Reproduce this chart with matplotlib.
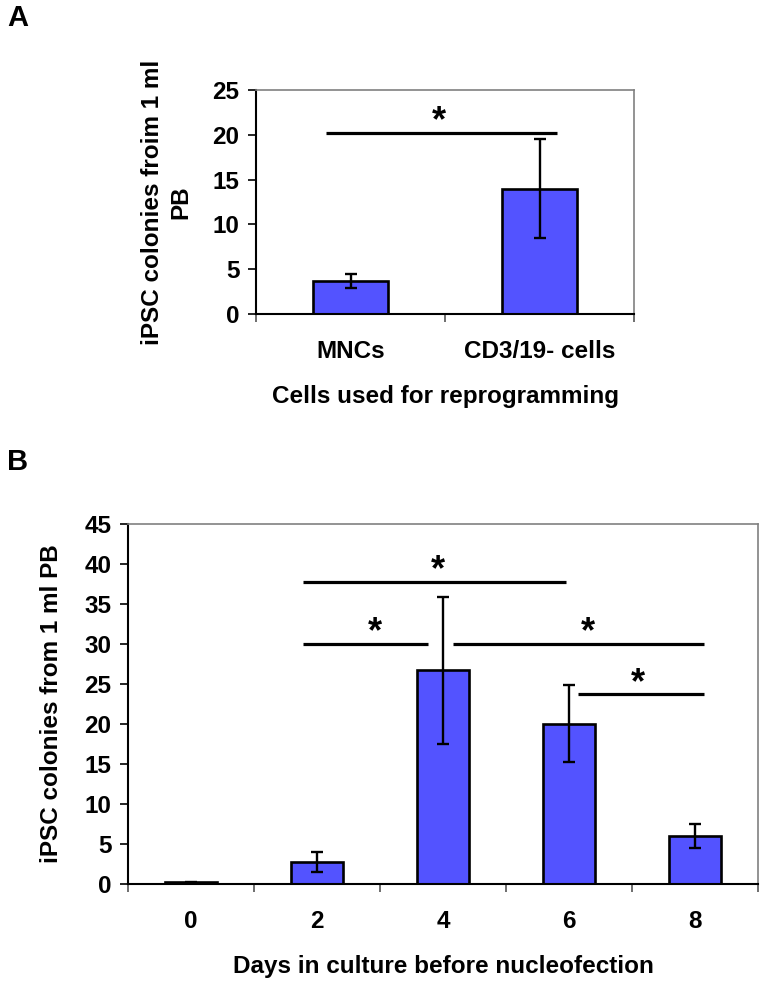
import numpy as np
import matplotlib
matplotlib.use("Agg")
import matplotlib.pyplot as plt

plt.rcParams['font.family'] = ['Liberation Sans', 'DejaVu Sans']
plt.rcParams['font.weight'] = 'bold'
plt.rcParams['axes.labelweight'] = 'bold'
plt.rcParams['font.size'] = 17.5

# Panel A data
cells = ['MNCs', 'CD3/19- cells']
cells_mean = [3.7, 14.0]
cells_err = [0.78, 5.5]

# Panel B data
days = ['0', '2', '4', '6', '8']
days_mean = [0.2, 2.7, 26.7, 20.05, 6.0]
days_err = [0.1, 1.25, 9.15, 4.85, 1.55]

# significance bars: (x start, x end, y, star x)
sig_a = [(-0.13, 1.09, 20.24, 0.47)]
sig_b = [(0.89, 2.98, 37.8, 1.96),
         (0.89, 1.88, 30.0, 1.46),
         (2.08, 4.07, 30.0, 3.15),
         (3.07, 4.07, 23.7, 3.55)]

bar_color = '#5353ff'
W, H = 766, 988
fig = plt.figure(figsize=(W / 100, H / 100), dpi=100)


def px_axes(l, r, t, b):
    return fig.add_axes([l / W, 1 - b / H, (r - l) / W, (b - t) / H])


def style(ax, n):
    ax.set_xlim(-0.5, n - 0.5)
    for s in ['left', 'bottom']:
        ax.spines[s].set_linewidth(1.5)
        ax.spines[s].set_color('black')
    for s in ['top', 'right']:
        ax.spines[s].set_linewidth(1.2)
        ax.spines[s].set_color('#808080')
    ax.set_xticks(range(n))
    ax.set_xticks(np.arange(n + 1) - 0.5, minor=True)
    ax.tick_params(axis='x', which='major', length=0, pad=19)
    ax.tick_params(axis='x', which='minor', length=6, width=1.2, color='#555555', direction='out')
    ax.tick_params(axis='y', length=6, width=1.2, direction='out', pad=6)


def draw_sig(ax, sigs):
    for x0, x1, y, xs in sigs:
        ax.plot([x0, x1], [y, y], color='black', lw=2.3, solid_capstyle='butt')
        ax.annotate('*', (xs, y), xytext=(0, 1), textcoords='offset points',
                    ha='center', va='baseline', fontsize=26, fontweight='bold')


# Panel A
axA = px_axes(256, 634, 90, 314)
axA.bar(range(len(cells)), cells_mean, width=0.4, color=bar_color,
        edgecolor='black', linewidth=1.9, zorder=2)
axA.errorbar(range(len(cells)), cells_mean, yerr=cells_err, fmt='none',
             ecolor='black', elinewidth=1.7, capsize=4, capthick=1.7, zorder=3)
style(axA, len(cells))
axA.set_ylim(0, 25)
axA.set_yticks(range(0, 26, 5))
axA.set_xticklabels(cells)
draw_sig(axA, sig_a)
axA.set_ylabel('iPSC colonies froim 1 ml\nPB', linespacing=1.3)
axA.yaxis.label.set(ha='center', va='center')
axA.yaxis.set_label_coords(-0.235, 0.5)
axA.set_xlabel('Cells used for reprogramming')
axA.xaxis.label.set(va='center')
axA.xaxis.set_label_coords(0.5, -0.37)

# Panel B
axB = px_axes(128, 758, 524, 884)
axB.bar(range(len(days)), days_mean, width=0.41, color=bar_color,
        edgecolor='black', linewidth=1.9, zorder=2)
axB.errorbar(range(len(days)), days_mean, yerr=days_err, fmt='none',
             ecolor='black', elinewidth=1.7, capsize=4, capthick=1.7, zorder=3)
style(axB, len(days))
axB.set_ylim(0, 45)
axB.set_yticks(range(0, 46, 5))
axB.set_xticklabels(days)
draw_sig(axB, sig_b)
axB.set_ylabel('iPSC colonies from 1 ml PB')
axB.yaxis.label.set(ha='center', va='center')
axB.yaxis.set_label_coords(-0.122, 0.5)
axB.set_xlabel('Days in culture before nucleofection')
axB.xaxis.label.set(va='center')
axB.xaxis.set_label_coords(0.5, -0.23)

fig.text(7 / W, 1 - 4 / H, 'A', fontsize=21, fontweight='bold', va='top', ha='left')
fig.text(7 / W, 1 - 448 / H, 'B', fontsize=21, fontweight='bold', va='top', ha='left')

fig.savefig('out.png', dpi=100)
